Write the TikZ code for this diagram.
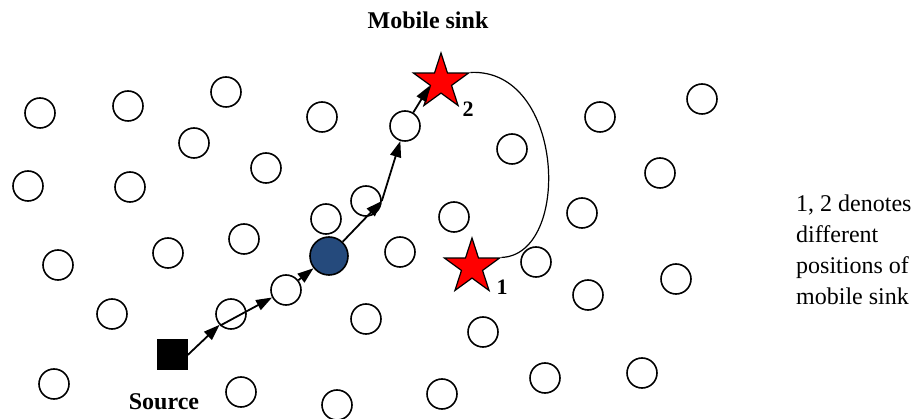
\documentclass[tikz,border=0pt]{standalone}
\usepackage{fontspec}
\setmainfont{Liberation Serif}
\usetikzlibrary{shapes.geometric,arrows.meta}
\definecolor{nodeblue}{RGB}{37,74,124}
\begin{document}
\begin{tikzpicture}[x=1pt,y=-1pt,
  sensor/.style={circle,draw,line width=1.6pt,minimum size=30pt,inner sep=0pt},
  relay/.style={circle,draw,fill=nodeblue,line width=1.6pt,minimum size=38pt,inner sep=0pt},
  srcbox/.style={rectangle,fill=black,minimum size=31pt,inner sep=0pt},
  sinkstar/.style={star,star points=5,star point ratio=2.618,draw,fill=red,line width=1.2pt,minimum size=58pt,inner sep=0pt},
  hop/.style={line width=1.8pt,-{Triangle[length=16pt,width=11pt]}},
  lbl/.style={font=\fontsize{24}{28}\selectfont\bfseries,inner sep=0pt},
  numlbl/.style={font=\fontsize{22}{26}\selectfont\bfseries,inner sep=0pt,anchor=base},
  note/.style={font=\fontsize{24}{28}\selectfont,anchor=base west,inner sep=0pt}]
\useasboundingbox (0,0) rectangle (916,419);
% sensor nodes
\foreach \n/\x/\y in {1/40/113,2/128/106,3/226/92,4/322/117,5/194/143,6/405/126,7/512/149,
  8/600/117,9/702/99,10/28/186,11/130/187,12/266/168,13/660/173,14/366/201,15/326/219,
  16/454/217,17/582/213,18/58/265,19/168/253,20/244/239,21/400/252,22/536/262,23/676/279,
  24/112/314,25/231/314,26/286/290,27/366/319,28/588/295,29/483/332,30/54/384,31/241/392,
  32/337/405,33/442/394,34/545/378,35/642/373}
  \node[sensor] (c\n) at (\x,\y) {};
% special nodes
\node[relay] (blue) at (329,256) {};
\node[srcbox] (src) at (172,355) {};
\node[sinkstar] (s2) at (441,82) {};
\node[sinkstar] (s1) at (472,267) {};
% labels
\node[lbl,anchor=base] (mstitle) at (428,29) {Mobile sink};
\node[lbl,anchor=base] (srctitle) at (164,410) {Source};
\node[numlbl] (n2) at (468,117) {2};
\node[numlbl] (n1) at (502,295) {1};
\node[note] (t1) at (796,212) {1, 2 denotes};
\node[note] (t2) at (796,243) {different};
\node[note] (t3) at (796,274) {positions of};
\node[note] (t4) at (796,305) {mobile sink};
% route
\coordinate (f) at (c14.east);
\draw[hop] (src.east) -- (c25);
\draw[hop] (c25.227) -- (c26);
\draw[hop] (c26) -- (blue);
\draw[hop] (blue) -- (f);
\draw[hop] (f) -- (c6);
\draw[hop] (c6) -- (s2.inner point 2);
% sink movement
\draw[line width=1.2pt] (s2.outer point 5) .. controls (565,68) and (572,255) .. (s1.outer point 5);
\end{tikzpicture}
\end{document}
